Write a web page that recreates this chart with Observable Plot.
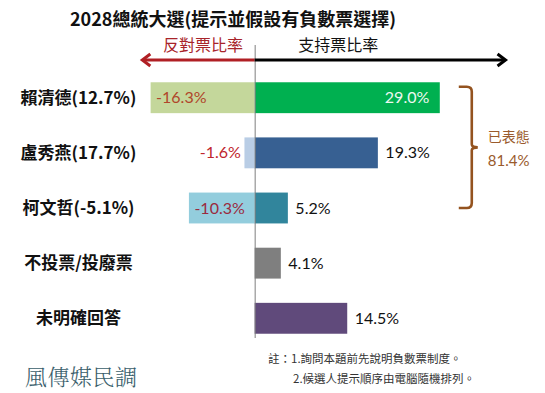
<!DOCTYPE html>
<html>
<head>
<meta charset="utf-8">
<script src="https://cdn.jsdelivr.net/npm/d3@7"></script>
<script src="https://cdn.jsdelivr.net/npm/@observablehq/plot@0.6"></script>
<style>
  body { margin: 0; background: #fff; }
  #wrap { position: relative; width: 545px; height: 393px; overflow: hidden; background: #fff;
          font-family: "Noto Sans CJK TC", "Noto Sans", sans-serif; }
  #chart { position: absolute; left: 0; top: 0; }
  #title { position: absolute; left: 0; top: 9px; width: 466px; text-align: center;
           font-size: 18px; line-height: 1; font-weight: bold; color: #111; white-space: nowrap; }
  .note { position: absolute; font-size: 11.5px; line-height: 1; color: #333; white-space: nowrap; }
  #brand { position: absolute; left: 25px; top: 365px; font-size: 22px; line-height: 1;
           color: #3a5e6b; letter-spacing: 0.5px; font-family: "Noto Serif CJK TC", "Noto Sans CJK TC", serif; font-weight: 300; }
</style>
</head>
<body>
<div id="wrap">
  <div id="chart"></div>
  <div id="title">2028總統大選(提示並假設有負數票選擇)</div>
  <div id="brand">風傳媒民調</div>
  <div class="note" style="left:268px; top:353px;">註：1.詢問本題前先說明負數票制度。</div>
  <div class="note" style="left:293px; top:373px;">2.候選人提示順序由電腦隨機排列。</div>
</div>
<script>
// ---- data ----
const categories = ["賴清德(12.7%)", "盧秀燕(17.7%)", "柯文哲(-5.1%)", "不投票/投廢票", "未明確回答"];
const support = [29.0, 19.3, 5.2, 4.1, 14.5];
const oppose = [-16.3, -1.6, -10.3, null, null];
const supportColors = ["#00b050", "#376092", "#31859c", "#7f7f7f", "#604a7b"];
const opposeColors = ["#c4d79b", "#b9cde5", "#93cddd", null, null];
const opposeLabelColors = ["#b0462a", "#c0262d", "#9b2a3e", null, null];
const supportLabelInside = [true, false, false, false, false];
const opposeLabelInside = [true, false, true, false, false];
const headerLabels = ["反對票比率", "支持票比率"];
const arrowReach = [-17.6, 39.3];
const braceLabel = "已表態";
const candidateCount = 3;

const rows = categories.map((c, i) => ({
  cat: c, s: support[i], o: oppose[i], sc: supportColors[i], oc: opposeColors[i],
  lc: opposeLabelColors[i], sIn: supportLabelInside[i], oIn: opposeLabelInside[i]
}));
const fmt = v => v.toFixed(1) + "%";
const expressed = 100 - support.slice(candidateCount).reduce((a, b) => a + b, 0);

const chart = Plot.plot({
  width: 545, height: 393,
  marginLeft: 127, marginRight: 35, marginTop: 58, marginBottom: 35,
  x: { domain: [-20, 40], axis: null },
  y: { domain: categories, padding: 0.44, round: false, label: null },
  color: { type: "identity" },
  style: { fontFamily: "Lato, 'Noto Sans CJK TC', sans-serif", fontSize: "16px", background: "transparent", color: "#000", overflow: "visible" },
  marks: [
    Plot.barX(rows, { x1: 0, x2: "s", y: "cat", fill: "sc" }),
    Plot.barX(rows.filter(d => d.o != null), { x1: "o", x2: 0, y: "cat", fill: "oc" }),
    Plot.ruleX([0], { stroke: "#7f7f7f", strokeWidth: 1, insetTop: -13, insetBottom: 20 }),
    Plot.axisY({ tickSize: 0, tickPadding: 49, textAnchor: "middle", label: null,
                 fontSize: 17, fontWeight: "bold", fontFamily: "'Noto Sans CJK TC', sans-serif", fill: "#111" }),
    Plot.text(rows.filter(d => d.sIn), { x: "s", y: "cat", text: d => fmt(d.s), textAnchor: "end", dx: -11, fill: "#eef8f0" }),
    Plot.text(rows.filter(d => !d.sIn), { x: "s", y: "cat", text: d => fmt(d.s), textAnchor: "start", dx: 7, fill: "#111" }),
    Plot.text(rows.filter(d => d.o != null && d.oIn), { x: "o", y: "cat", text: d => fmt(d.o), textAnchor: "start", dx: 5, fill: "lc" }),
    Plot.text(rows.filter(d => d.o != null && !d.oIn), { x: "o", y: "cat", text: d => fmt(d.o), textAnchor: "end", dx: -4, fill: "lc" })
  ]
});
document.getElementById("chart").appendChild(chart);

// ---- annotations using the plot's own scales ----
const xs = chart.scale("x"), ys = chart.scale("y");
const X = v => xs.apply(v);
const Yc = c => ys.apply(c) + ys.bandwidth / 2;
const svg = d3.select(chart);
const ann = svg.append("g");

// arrows
const ay = 60;
const drawArrow = (x0, x1, color) => {
  const dir = Math.sign(x1 - x0);
  ann.append("line").attr("x1", x0).attr("x2", x1 - dir * 1).attr("y1", ay).attr("y2", ay)
    .attr("stroke", color).attr("stroke-width", 3);
  ann.append("path")
    .attr("d", `M${x1 - dir * 8},${ay - 6}L${x1},${ay}L${x1 - dir * 8},${ay + 6}`)
    .attr("fill", "none").attr("stroke", color).attr("stroke-width", 3)
    .attr("stroke-linejoin", "miter").attr("stroke-linecap", "butt");
};
drawArrow(X(0), X(arrowReach[0]), "#b01f24");
drawArrow(X(0), X(arrowReach[1]), "#000");

// header labels
ann.append("text").attr("x", X(arrowReach[0] / 2 + 0.7)).attr("y", 45).attr("dy", "0.35em")
  .attr("text-anchor", "middle").attr("fill", "#a8242a")
  .style("font-family", "'Noto Sans CJK TC', sans-serif").style("font-size", "16px")
  .text(headerLabels[0]);
ann.append("text").attr("x", X(13.1)).attr("y", 45).attr("dy", "0.35em")
  .attr("text-anchor", "middle").attr("fill", "#111")
  .style("font-family", "'Noto Sans CJK TC', sans-serif").style("font-size", "16px")
  .text(headerLabels[1]);

// brace around the candidates
const bx = X(d3.max(support)) + 32;
const bTop = Yc(categories[0]) - 11;
const bBot = Yc(categories[candidateCount - 1]);
const bMid = (bTop + bBot) / 2;
const braceColor = "#94531f";
ann.append("path")
  .attr("d", `M${bx - 13},${bTop} L${bx - 5},${bTop} Q${bx},${bTop} ${bx},${bTop + 5}
              L${bx},${bMid - 3} Q${bx},${bMid} ${bx + 6},${bMid} Q${bx},${bMid} ${bx},${bMid + 3}
              L${bx},${bBot - 5} Q${bx},${bBot} ${bx - 5},${bBot} L${bx - 13},${bBot}`)
  .attr("fill", "none").attr("stroke", braceColor).attr("stroke-width", 2.6);
ann.append("text").attr("x", bx + 16).attr("y", bMid - 10).attr("dy", "0.35em")
  .attr("text-anchor", "start")
  .attr("fill", "#9a5b2c").style("font-family", "'Noto Sans CJK TC', sans-serif").style("font-size", "14px")
  .text(braceLabel);
ann.append("text").attr("x", bx + 16).attr("y", bMid + 13).attr("dy", "0.35em")
  .attr("text-anchor", "start")
  .attr("fill", "#9a5b2c").style("font-family", "Lato, sans-serif").style("font-size", "15px")
  .text(fmt(expressed));
</script>
</body>
</html>
